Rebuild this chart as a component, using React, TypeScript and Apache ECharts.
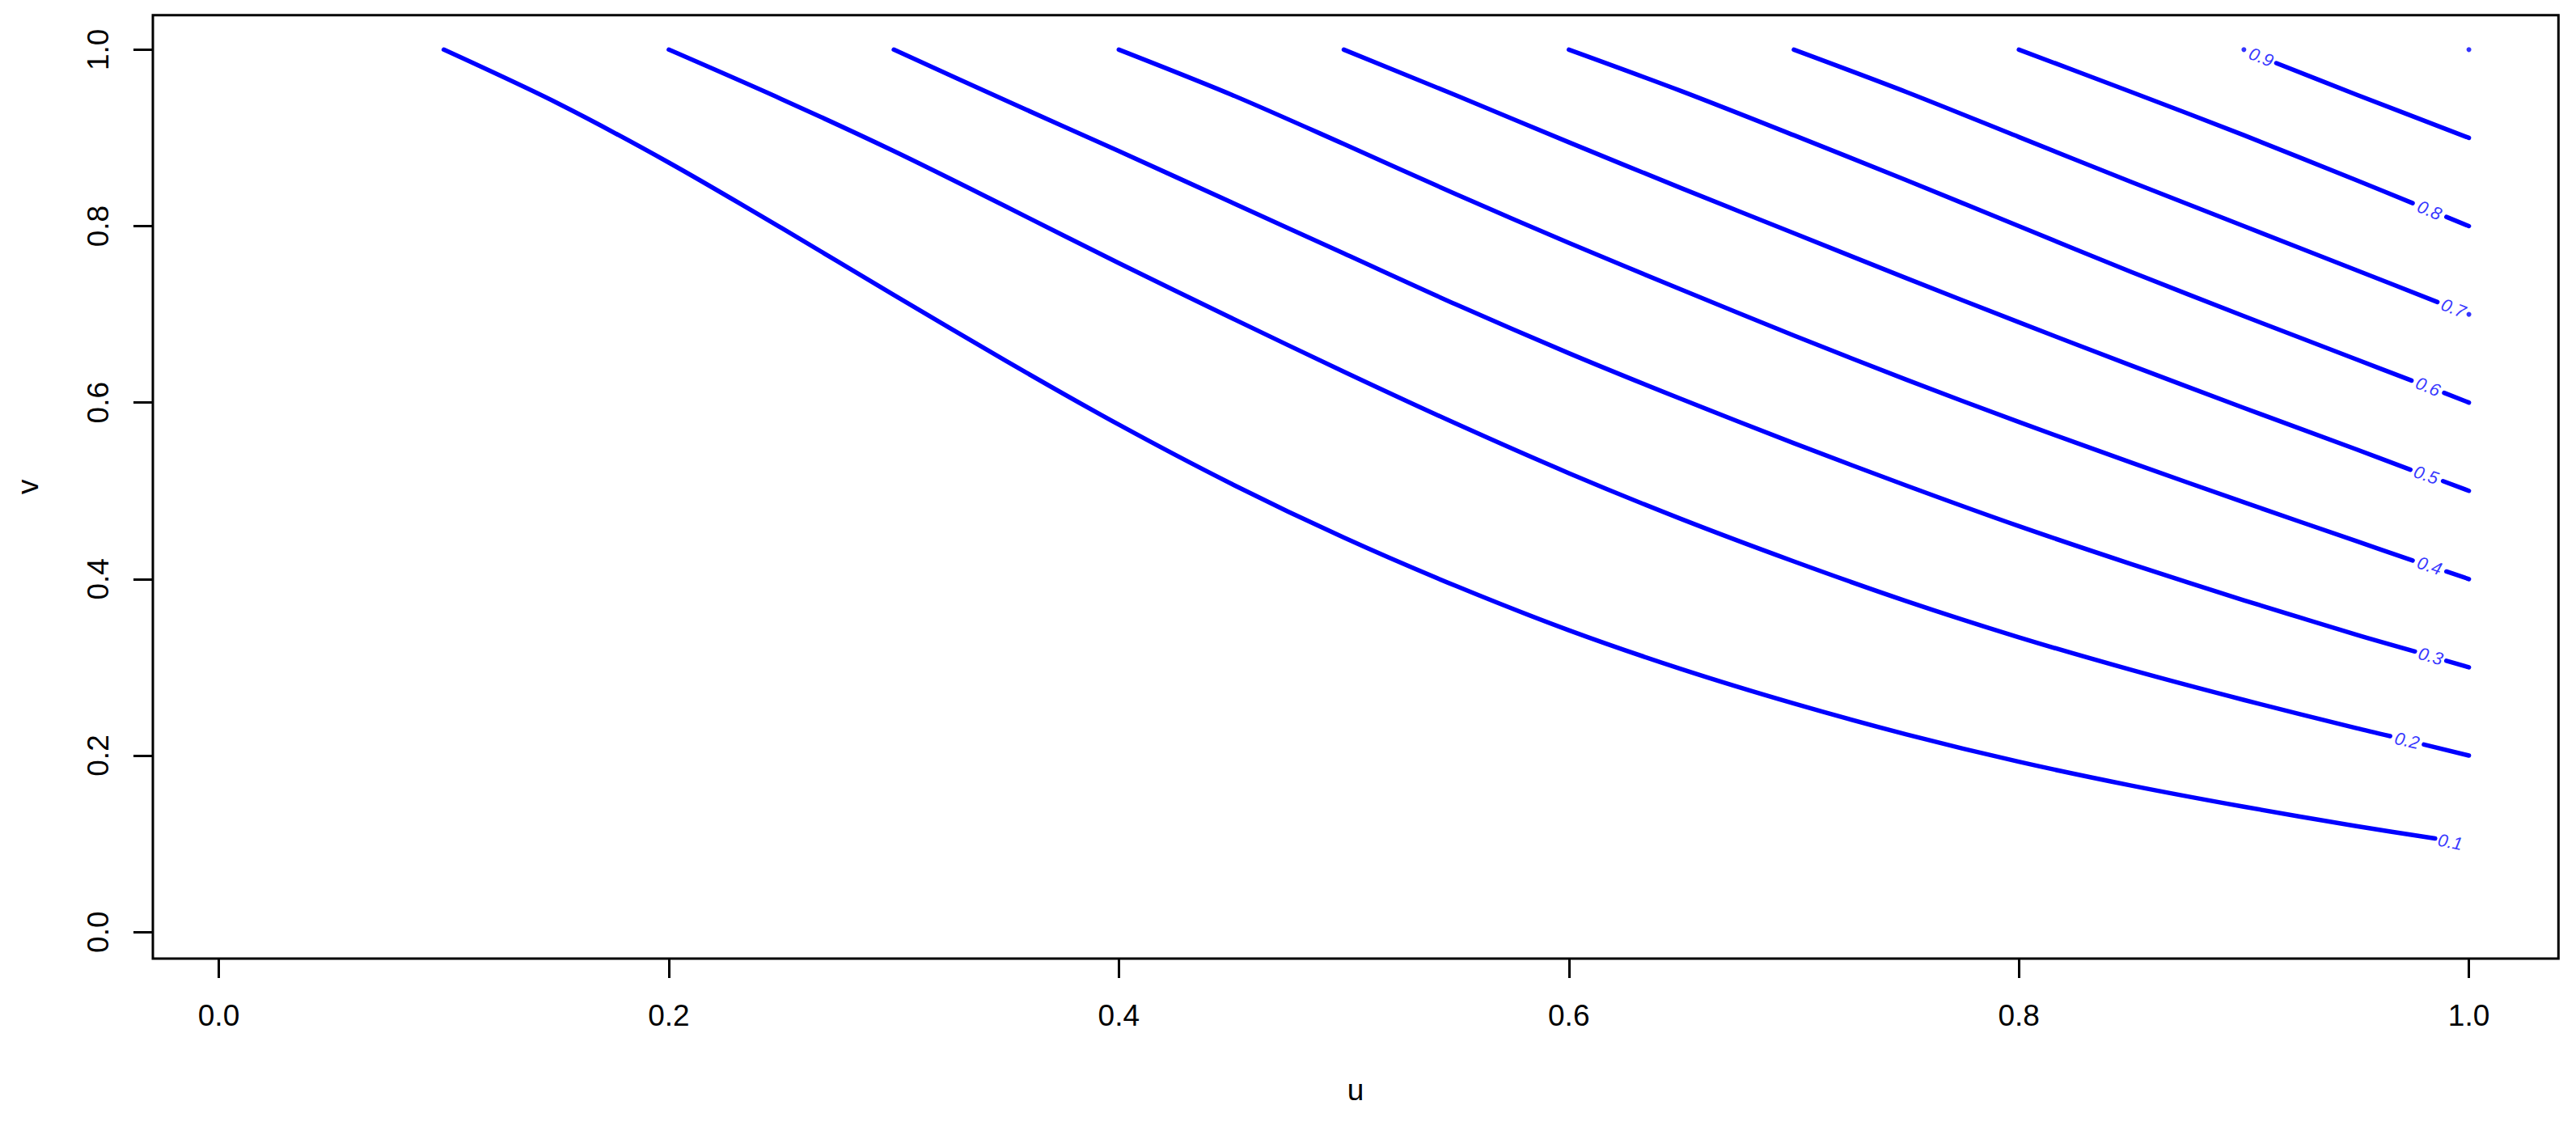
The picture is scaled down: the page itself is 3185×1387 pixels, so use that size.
import React, { useEffect, useRef } from "react";
import * as echarts from "echarts";

// Contour levels and their lines (u, v).
const contourLevels = ["0.1", "0.2", "0.3", "0.4", "0.5", "0.6", "0.7", "0.8", "0.9"];

const head01 = [[0.1, 1.0], [0.15, 0.94], [0.2, 0.872], [0.25, 0.798], [0.3, 0.722], [0.35, 0.647], [0.4, 0.575], [0.45, 0.508], [0.5, 0.447], [0.55, 0.392], [0.6, 0.342], [0.65, 0.298], [0.7, 0.259], [0.75, 0.224], [0.8, 0.193], [0.85, 0.166], [0.9, 0.142], [0.95, 0.12], [0.985, 0.106]];
const head02 = [[0.2, 1.0], [0.25, 0.944], [0.3, 0.885], [0.35, 0.822], [0.4, 0.758], [0.45, 0.696], [0.5, 0.635], [0.55, 0.576], [0.6, 0.52], [0.65, 0.468], [0.7, 0.42], [0.75, 0.375], [0.8, 0.334], [0.85, 0.297], [0.9, 0.263], [0.95, 0.231], [0.965, 0.222]];
const head03 = [[0.3, 1.0], [0.35, 0.942], [0.4, 0.885], [0.45, 0.827], [0.5, 0.769], [0.55, 0.711], [0.6, 0.656], [0.65, 0.604], [0.7, 0.554], [0.75, 0.506], [0.8, 0.46], [0.85, 0.417], [0.9, 0.376], [0.95, 0.337], [0.976, 0.318]];
const head04 = [[0.4, 1.0], [0.45, 0.949], [0.5, 0.893], [0.55, 0.836], [0.6, 0.781], [0.65, 0.728], [0.7, 0.676], [0.75, 0.626], [0.8, 0.578], [0.85, 0.532], [0.9, 0.487], [0.95, 0.443], [0.975, 0.421]];
const head05 = [[0.5, 1.0], [0.55, 0.948], [0.6, 0.895], [0.65, 0.843], [0.7, 0.792], [0.75, 0.741], [0.8, 0.691], [0.85, 0.642], [0.9, 0.594], [0.95, 0.547], [0.974, 0.524]];
const head06 = [[0.6, 1.0], [0.65, 0.953], [0.7, 0.903], [0.75, 0.852], [0.8, 0.8], [0.85, 0.748], [0.9, 0.698], [0.95, 0.649], [0.9745, 0.625]];
const head07 = [[0.7, 1.0], [0.75, 0.952], [0.8, 0.901], [0.85, 0.85], [0.9, 0.8], [0.95, 0.75], [0.986, 0.714]];
const head08 = [[0.8, 1.0], [0.85, 0.952], [0.9, 0.903], [0.95, 0.852], [0.975, 0.826]];
const head09: number[][] = [];

const tail01: number[][] = [];
const tail02 = [[0.98, 0.2125], [1.0, 0.2]];
const tail03 = [[0.99, 0.3074], [1.0, 0.3]];
const tail04 = [[0.99, 0.4086], [1.0, 0.4]];
const tail05 = [[0.9885, 0.511], [1.0, 0.5]];
const tail06 = [[0.989, 0.611], [1.0, 0.6]];
const tail07: number[][] = [];
const tail08 = [[0.99, 0.8104], [1.0, 0.8]];
const tail09 = [[0.9144, 0.9847], [0.95, 0.949], [1.0, 0.9]];

// single-point pieces of contours (0.9 start, 0.7 end, level 1.0)
const dotPoints = [[0.9, 1.0], [1.0, 0.7], [1.0, 1.0]];

const labelPositions = [[0.9917, 0.102], [0.9725, 0.217], [0.983, 0.3126], [0.9825, 0.415], [0.981, 0.518], [0.9818, 0.618], [0.9931, 0.707], [0.9825, 0.818], [0.9077, 0.9915]];
const labelAngles = [11, 12.6, 16, 18.3, 19, 22, 22, 22.5, 21.7];

const tickValues = [0, 0.2, 0.4, 0.6, 0.8, 1.0];

const heads = [head01, head02, head03, head04, head05, head06, head07, head08, head09];
const tails = [tail01, tail02, tail03, tail04, tail05, tail06, tail07, tail08, tail09];

const BLUE = "#0000FF";
const FONT = "'Liberation Sans', Arial, Helvetica, sans-serif";

export default function App() {
  const ref = useRef<HTMLDivElement>(null);
  useEffect(() => {
    if (!ref.current) return;
    const chart = echarts.init(ref.current, null, { renderer: "svg" });
    const lineStyle = { color: BLUE, width: 5.5, cap: "round", join: "round" };
    const series: any[] = [];
    heads.forEach((d, i) => {
      if (d.length > 1)
        series.push({ type: "line", name: "c" + contourLevels[i], data: d, showSymbol: false, symbol: "none", smooth: 0.3, lineStyle, silent: true });
    });
    tails.forEach((d, i) => {
      if (d.length > 1)
        series.push({ type: "line", name: "t" + contourLevels[i], data: d, showSymbol: false, symbol: "none", smooth: 0.3, lineStyle, silent: true });
    });
    series.push({
      type: "scatter",
      data: dotPoints,
      symbol: "circle",
      symbolSize: 6,
      itemStyle: { color: BLUE },
      silent: true,
    });
    series.push({
      type: "scatter",
      symbolSize: 0,
      silent: true,
      data: labelPositions.map((p, i) => ({
        value: p,
        name: contourLevels[i],
        label: { rotate: -labelAngles[i] },
      })),
      label: {
        show: true,
        position: "inside",
        formatter: (p: any) => p.name,
        color: BLUE,
        fontSize: 22,
        fontStyle: "italic",
        fontFamily: FONT,
      },
    });

    const axisCommon = {
      type: "value",
      nameLocation: "middle",
      nameTextStyle: { fontSize: 37, fontFamily: FONT, color: "#000", lineHeight: 37 },
      axisLine: { show: false, onZero: false },
      splitLine: { show: false },
      axisTick: { show: true, inside: false, length: 24, customValues: tickValues, lineStyle: { color: "#000", width: 3 } },
      axisLabel: {
        show: true,
        customValues: tickValues,
        formatter: (v: number) => v.toFixed(1),
        fontSize: 37,
        lineHeight: 37,
        fontFamily: FONT,
        color: "#000",
        margin: 52,
      },
    };

    chart.setOption({
      animation: false,
      backgroundColor: "#fff",
      grid: {
        left: 189,
        top: 18.7,
        width: 2974.3,
        height: 1166.3,
        show: true,
        borderColor: "#000",
        borderWidth: 3,
        backgroundColor: "transparent",
        containLabel: false,
      },
      xAxis: {
        ...axisCommon,
        name: "u",
        nameGap: 144,
        min: -0.0293,
        max: 1.0398,
      },
      yAxis: {
        ...axisCommon,
        name: "v",
        nameGap: 136,
        nameRotate: 90,
        min: -0.0301,
        max: 1.0391,
        axisLabel: { ...axisCommon.axisLabel, rotate: 90, margin: 49 },
      },
      series,
    });
    return () => chart.dispose();
  }, []);
  return <div ref={ref} style={{ position: "absolute", left: 0, top: 0, width: 3185, height: 1387 }} />;
}
